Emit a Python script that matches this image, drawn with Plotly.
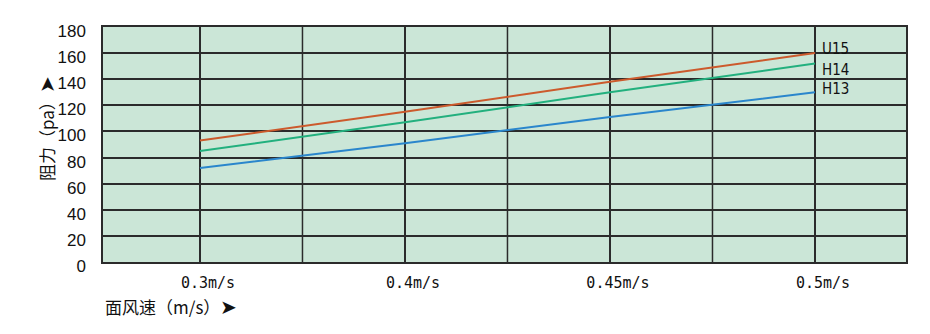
import plotly.graph_objects as go

categories = ["0.3m/s", "0.4m/s", "0.45m/s", "0.5m/s"]
series_names = ["U15", "H14", "H13"]
u15 = [93, 115, 138, 160]
h14 = [85, 107, 130, 152]
h13 = [72, 91, 111, 130]
y_ticks = [0, 20, 40, 60, 80, 100, 120, 140, 160, 180]

colors = ["#cc5a2c", "#22b07e", "#2a86cc"]
label_yshift = [4, -6, 3]
xpos = list(range(len(categories)))

fig = go.Figure()
for name, vals, col, ys in zip(series_names, [u15, h14, h13], colors, label_yshift):
    fig.add_trace(go.Scatter(x=xpos, y=vals, mode="lines", name=name,
                             line=dict(color=col, width=2), showlegend=False))
    fig.add_annotation(x=xpos[-1], y=vals[-1], text=name, showarrow=False,
                       xanchor="left", yanchor="middle", xshift=5, yshift=ys,
                       font=dict(family="DejaVu Sans Condensed, Liberation Sans Narrow, sans-serif",
                                 size=15, color="#111"))

# minor (between-category) gridlines
for m in [0.5, 1.5, 2.5]:
    fig.add_shape(type="line", xref="x", yref="paper", x0=m, x1=m, y0=0, y1=1,
                  line=dict(color="#2b2b2b", width=1.5), layer="below")

fig.update_layout(
    width=930, height=334,
    margin=dict(l=103, r=24, t=27, b=72),
    paper_bgcolor="white", plot_bgcolor="#cbe6d7",
    font=dict(family="Liberation Sans, Arial, sans-serif", color="#111"),
)
fig.update_xaxes(range=[-0.473, 3.444], tickvals=xpos, ticktext=categories,
                 showgrid=True, gridcolor="#2b2b2b", gridwidth=1.5,
                 showline=True, linecolor="#2b2b2b", linewidth=1.5, mirror=True,
                 ticks="", zeroline=False, ticklabelstandoff=6, ticklabelshift=8,
                 tickfont=dict(family="DejaVu Sans Mono, monospace", size=15, color="#111"))
fig.update_yaxes(range=[0, 180], tickvals=y_ticks,
                 showgrid=True, gridcolor="#2b2b2b", gridwidth=1.5,
                 showline=True, linecolor="#2b2b2b", linewidth=1.5, mirror=True,
                 ticks="", zeroline=False, ticklabelstandoff=12, ticklabelshift=4,
                 tickfont=dict(size=17, color="#111"))

fig.add_annotation(xref="paper", yref="paper", x=(45 - 103) / 803, y=(262 - 129) / 235,
                   text="阻力（pa）<span style='font-size:20px'>➤</span>", textangle=-90, showarrow=False,
                   xanchor="center", yanchor="middle",
                   font=dict(family="Noto Sans CJK SC, sans-serif", size=17, color="#111"))
fig.add_annotation(xref="paper", yref="paper", x=0, y=(262 - 305) / 235,
                   text="面风速（m/s）<span style='font-size:20px'>➤</span>", showarrow=False,
                   xanchor="left", yanchor="middle",
                   font=dict(family="Noto Sans CJK SC, sans-serif", size=17, color="#111"))

fig.write_html("out.html")
